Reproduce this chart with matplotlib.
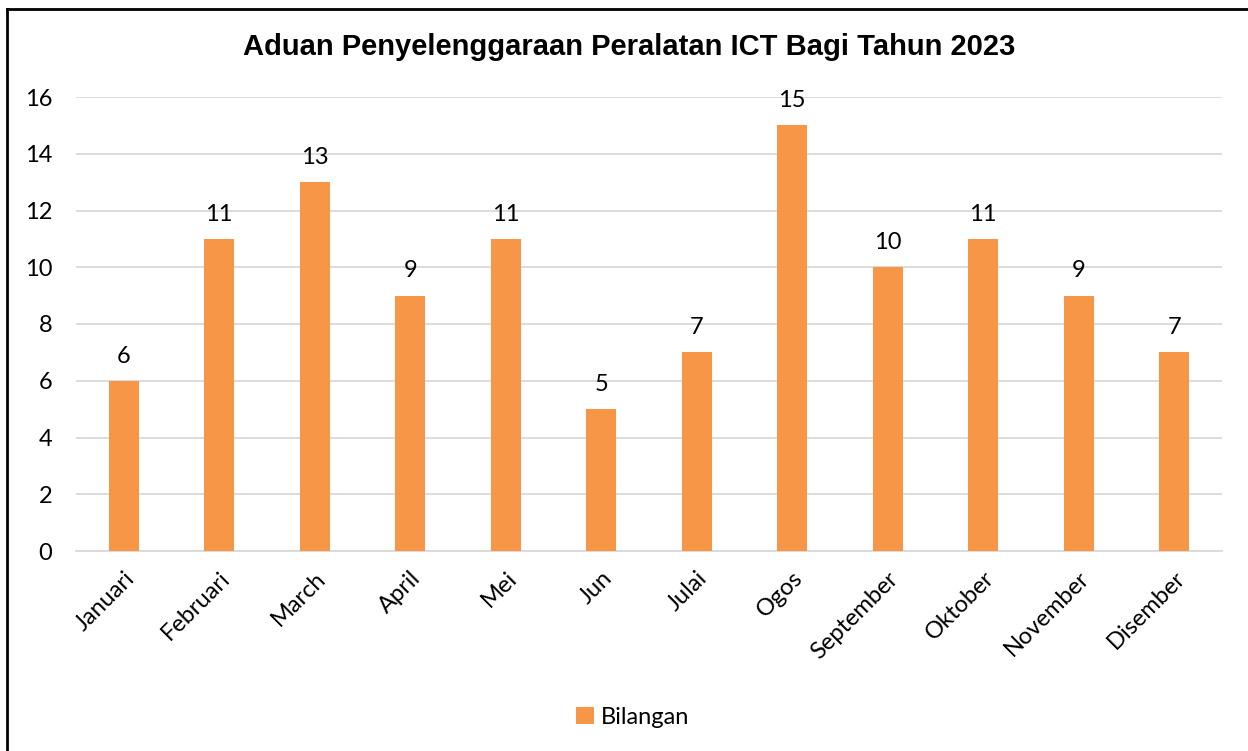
import matplotlib
matplotlib.use('Agg')
import matplotlib.pyplot as plt
import numpy as np

# data
bulan = ['Januari', 'Februari', 'March', 'April', 'Mei', 'Jun', 'Julai',
         'Ogos', 'September', 'Oktober', 'November', 'Disember']
bilangan = [6, 11, 13, 9, 11, 5, 7, 15, 10, 11, 9, 7]
yticks = [0, 2, 4, 6, 8, 10, 12, 14, 16]

plt.rcParams['font.family'] = ['Lato', 'DejaVu Sans']
fs = 17

fig = plt.figure(figsize=(12.48, 7.51), dpi=100)
ax = fig.add_axes([76/1248, 1-551/751, (1222-76)/1248, (551-97)/751])

x = np.arange(len(bulan))
bars = ax.bar(x, bilangan, width=0.31, color='#F79646', label='Bilangan', zorder=3)
for xi, v in zip(x, bilangan):
    ax.text(xi, v + 0.5, str(v), ha='center', va='bottom', fontsize=fs, color='black')

ax.set_xlim(-0.5, len(bulan) - 0.5)
ax.set_ylim(0, 16)
ax.set_yticks(yticks)
ax.set_yticklabels([str(t) for t in yticks], fontsize=fs)
ax.set_xticks(x)
ax.set_xticklabels(bulan, rotation=45, ha='right', rotation_mode='anchor', fontsize=fs)
ax.tick_params(axis='both', length=0)
ax.tick_params(axis='y', pad=17)
ax.tick_params(axis='x', pad=12)
ax.yaxis.grid(True, color='#D9D9D9', linewidth=1.3, zorder=0)
for s in ['top', 'right', 'left']:
    ax.spines[s].set_visible(False)
ax.spines['bottom'].set_color('#D9D9D9')
ax.spines['bottom'].set_linewidth(1.3)

fig.text(629/1248, 1-47/751, 'Aduan Penyelenggaraan Peralatan ICT Bagi Tahun 2023',
         ha='center', va='center', fontsize=21, fontweight='bold', family='Liberation Sans')

fig.legend(handles=[bars], labels=['Bilangan'], loc='center', bbox_to_anchor=(633/1248, 1-717/751),
           frameon=False, fontsize=fs, handlelength=0.75, handleheight=0.75, handletextpad=0.3)

# chart border (left and top visible)
fig.add_artist(plt.Line2D([7/1248, 7/1248], [0, 1-9/751], color='black', linewidth=2, transform=fig.transFigure))
fig.add_artist(plt.Line2D([7/1248, 1], [1-9/751, 1-9/751], color='black', linewidth=2, transform=fig.transFigure))

fig.savefig('out.png', dpi=100)
